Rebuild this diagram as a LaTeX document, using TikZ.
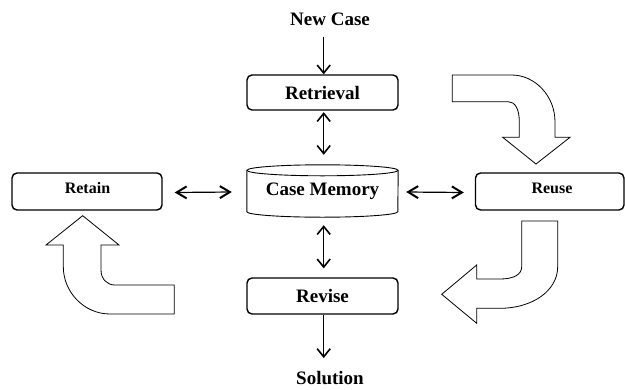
\documentclass[tikz,border=0pt]{standalone}
\usepackage{fontspec}
\setmainfont{Liberation Serif}
\usetikzlibrary{arrows.meta}
\begin{document}
\begin{tikzpicture}[x=1pt,y=-1pt,
  procbox/.style={draw, line width=1.4pt, rounded corners=5pt, inner sep=0pt, font=\bfseries},
  lbl/.style={font=\fontsize{19}{22}\selectfont\bfseries, inner sep=0pt},
  barb/.tip={Straight Barb[length=8pt,width=13pt,line width=1.6pt]},
  hbarb/.tip={Straight Barb[length=10pt,width=12pt,line width=2pt]},
  thinarr/.style={line width=0.9pt, -barb},
  vdbl/.style={line width=1pt, barb-barb},
  hdbl/.style={line width=1.2pt, hbarb-hbarb},
  bigarr/.style={draw, line width=0.8pt, fill=white}]
\useasboundingbox (0,0) rectangle (625,389);
% nodes
\node[lbl] (newcase) at (330,19) {New Case};
\node[procbox, minimum width=151pt, minimum height=35pt, font=\fontsize{19}{22}\selectfont\bfseries] (retrieval) at (322.5,92.5) {Retrieval};
\node[inner sep=0pt, minimum width=151pt, minimum height=52pt, font=\fontsize{19}{22}\selectfont\bfseries] (mem) at (322.5,191) {Case Memory};
\draw[line width=0.9pt] ([yshift=-5.5pt]mem.north west) -- ([yshift=5.5pt]mem.south west)
   arc[start angle=180,end angle=360,x radius=75.5pt,y radius=5.5pt]
   -- ([yshift=-5.5pt]mem.north east);
\draw[line width=0.9pt] ([yshift=-5.5pt]mem.north) ellipse[x radius=75.5pt,y radius=5.5pt];
\node[procbox, minimum width=150pt, minimum height=37pt] (retain) at (87,191.5) {};
\node[font=\fontsize{16}{19}\selectfont\bfseries, inner sep=0pt] at (87.5,188) {Retain};
\node[procbox, minimum width=148.5pt, minimum height=37pt] (reuse) at (549.75,191.5) {};
\node[font=\fontsize{16}{19}\selectfont\bfseries, inner sep=0pt] at (552,188) {Reuse};
\node[procbox, minimum width=151pt, minimum height=36pt, font=\fontsize{19}{22}\selectfont\bfseries] (revise) at (322.5,296) {Revise};
\node[lbl] (solution) at (330,378.5) {Solution};
\coordinate (solend) at (323.7,358);
% connectors
\draw[thinarr] ([xshift=-6.3pt,yshift=-11pt]newcase.south) -- ([xshift=1.2pt]retrieval.north);
\draw[vdbl] ([xshift=1.2pt,yshift=-1.5pt]retrieval.south) -- ([xshift=1.2pt,yshift=10pt]mem.north);
\draw[vdbl] ([xshift=1.2pt,yshift=-8pt]mem.south) -- ([xshift=1.2pt,yshift=9pt]revise.north);
\draw[thinarr] ([xshift=1.2pt]revise.south) -- (solend);
\draw[hdbl] ([xshift=12pt,yshift=-1pt]retain.east) -- ([xshift=-15pt,yshift=-1pt]mem.west);
\draw[hdbl] ([xshift=8pt,yshift=-1pt]mem.east) -- ([xshift=-11pt,yshift=-1pt]reuse.west);
% big curved arrows
\draw[bigarr] (452.3,75) -- (511.7,75) .. controls (535,75) and (555,96) .. (555,121.7)
  -- (555,137.3) -- (570,137.3) -- (536,164) -- (502.7,137.3) -- (519.3,137.3) -- (519.3,121.7)
  .. controls (519.3,109) and (515,101.7) .. (508.3,101.7) -- (452.3,101.7) -- cycle;
\draw[bigarr] (521.7,221) -- (557.7,221) -- (557.7,266.7) .. controls (557.7,291) and (532,308.3) .. (500,308.3)
  -- (476.7,308.3) -- (476.7,323.3) -- (441.7,294.3) -- (476.7,265) -- (476.7,279) -- (500,279)
  .. controls (513,279) and (521.7,275) .. (521.7,266.7) -- cycle;
\draw[bigarr] (82.7,215.7) -- (119,245) -- (101,245) -- (101,270) .. controls (101,279) and (107,285) .. (115,285)
  -- (174.3,285) -- (174.3,314) -- (110,314) .. controls (84,314) and (63.3,292) .. (63.3,266.7)
  -- (63.3,245) -- (46,245) -- cycle;
\end{tikzpicture}
\end{document}
